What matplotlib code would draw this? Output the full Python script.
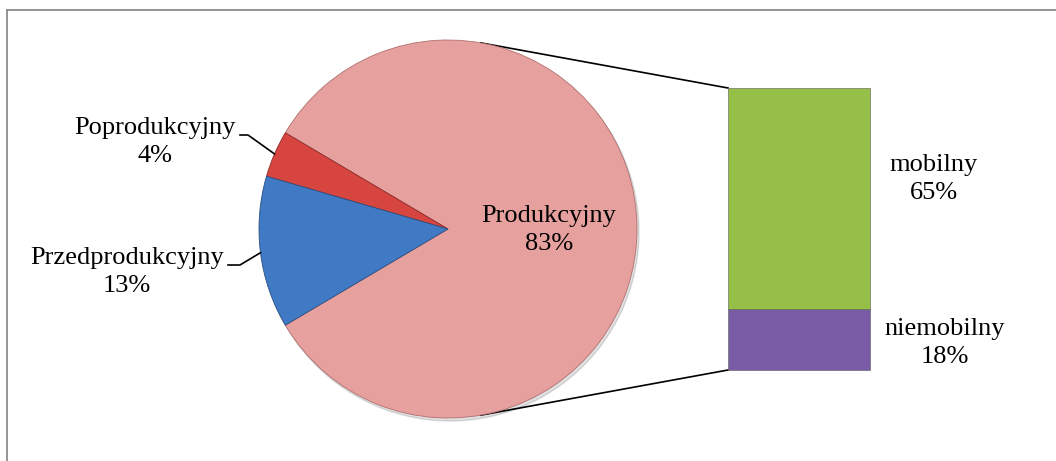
import numpy as np
import matplotlib
matplotlib.use("Agg")
import matplotlib.pyplot as plt
from matplotlib.lines import Line2D

plt.rcParams['font.family'] = ['Liberation Serif', 'DejaVu Serif']
plt.rcParams['font.size'] = 19

## dane
pie_labels = ["Produkcyjny", "Poprodukcyjny", "Przedprodukcyjny"]
pie_values = [83, 4, 13]
pie_colors = ["#E6A09E", "#D74540", "#4079C4"]

bar_labels = ["niemobilny", "mobilny"]
bar_values = [18, 65]
bar_colors = ["#7A5CA6", "#96BF48"]

W, H = 1056, 461
fig = plt.figure(figsize=(W / 100, H / 100), dpi=100)
ax = fig.add_axes([0, 0, 1, 1])

# pie geometry (pixels, y up)
cx, cy, r = 448, H - 229, 189
start = -pie_values[0] / 100 * 180

# cień
shadow = plt.Circle((cx + 2, cy - 3), r, color="#000000", alpha=0.12, zorder=1)
ax.add_patch(shadow)

wedges, _ = ax.pie(pie_values, colors=pie_colors, startangle=start,
                   counterclock=True, center=(cx, cy), radius=r, frame=True,
                   wedgeprops=dict(edgecolor="#B07070", linewidth=0.6, zorder=2))
wedges[1].set_edgecolor("#8A2A28")
wedges[2].set_edgecolor("#2A4F80")

LS = 1.3

# etykieta środkowa
ax.text(549, H - 230, "Produkcyjny\n83%", ha="center", va="center",
        linespacing=LS, zorder=5)

# etykiety z liniami odniesienia
label_pos = {"Poprodukcyjny": (155, 142, 248, 240, 135),
             "Przedprodukcyjny": (127, 272, 240, 228, 265)}
for w, name, val in zip(wedges, pie_labels, pie_values):
    if name not in label_pos:
        continue
    tx, ty, kx, ex, ly = label_pos[name]
    mid = np.deg2rad((w.theta1 + w.theta2) / 2)
    px, py = cx + r * np.cos(mid), cy + r * np.sin(mid)
    ax.plot([ex, kx, px], [H - ly, H - ly, py], color="black", lw=1.2, zorder=4)
    ax.text(tx, H - ty, f"{name}\n{val}%", ha="center", va="center",
            linespacing=LS, zorder=5)

# słupek
bx, bw = 799, 142
scale = 282 / sum(bar_values)
bottom = H - 370
y0 = bottom
for name, val, col in zip(bar_labels, bar_values, bar_colors):
    ax.bar(bx, val * scale, width=bw, bottom=y0, color=col,
           edgecolor="#5A5A5A", linewidth=0.4, zorder=3)
    y0 += val * scale
bar_top = y0

ax.text(934, H - 179, f"{bar_labels[1]}\n{bar_values[1]}%", ha="center",
        va="center", linespacing=LS)
ax.text(945, H - 343, f"{bar_labels[0]}\n{bar_values[0]}%", ha="center",
        va="center", linespacing=LS)

# linie łączące
a = np.deg2rad(80)
ax.plot([cx + r * np.cos(a), bx - bw / 2], [cy + r * np.sin(a), bar_top],
        color="black", lw=1.2, zorder=0)
ax.plot([cx + r * np.cos(-a), bx - bw / 2], [cy + r * np.sin(-a), bottom],
        color="black", lw=1.2, zorder=0)

ax.set_xlim(0, W)
ax.set_ylim(0, H)
ax.set_aspect("auto")
ax.axis("off")

# ramka
fig.add_artist(Line2D([7 / W, 1], [1 - 10 / H, 1 - 10 / H], color="#8C8C8C", lw=1.3))
fig.add_artist(Line2D([7 / W, 7 / W], [0, 1 - 10 / H], color="#8C8C8C", lw=1.3))

plt.savefig("out.png", dpi=100)
